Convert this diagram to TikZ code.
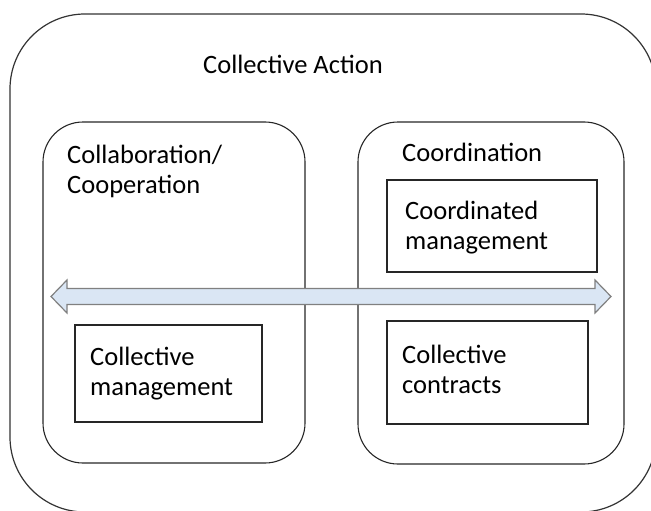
\documentclass[tikz,border=0pt]{standalone}
\usepackage{fontspec}
\setmainfont{Carlito}
\begin{document}
\begin{tikzpicture}[x=1pt,y=-1pt,
  frame/.style={draw=black!80,line width=1.2pt,rounded corners=75pt,
    rectangle,inner sep=0pt},
  group/.style={draw=black!85,line width=1.1pt,rounded corners=40pt,
    rectangle,inner sep=0pt},
  item/.style={draw=black!85,line width=1.1pt,rectangle,inner sep=0pt},
  label/.style={font=\fontsize{26.5}{30}\selectfont,inner sep=0pt,
    anchor=base west,align=left},
  twoway/.style={draw=black!50,line width=1.2pt,fill=arrowblue,
    line join=miter}]
\definecolor{arrowblue}{RGB}{218,230,244}
\useasboundingbox (0,0) rectangle (651,511);
\clip (0,0) rectangle (651,511);

% outer area and the two groups
\node[frame,minimum width=646pt,minimum height=498pt] (action) at (333,263) {};
\node[group,minimum width=262pt,minimum height=341pt] (collab) at (174,292.5) {};
\node[group,minimum width=266pt,minimum height=342pt] (coord) at (491,293) {};

% inner boxes
\node[item,minimum width=210pt,minimum height=92pt] (coordmgmt) at (492,226) {};
\node[item,minimum width=201pt,minimum height=103pt] (contracts) at (487.5,372.5) {};
\node[item,minimum width=187pt,minimum height=97pt] (collmgmt) at (168.5,373.5) {};

% double-headed arrow across both groups
\coordinate (lt) at (51,296.5);
\coordinate (rt) at (611,296.5);
\draw[twoway] (lt) -- ++(16,-16.5) -- ++(0,8.5) -- ++(528,0) -- ++(0,-8.5)
  -- (rt) -- ++(-16,16.5) -- ++(0,-8.5) -- ++(-528,0) -- ++(0,8.5) -- cycle;

% labels (multi-line labels are placed by the baseline of their last line)
\node[label] (tAction) at (203,74) {Collective Action};
\node[label] (tCollab) at (67,193) {Collaboration/\\Cooperation};
\node[label] (tCoord) at (402,161) {Coordination};
\node[label] (tCoordMgmt) at (405,249) {Coordinated\\management};
\node[label] (tContracts) at (402,393) {Collective\\contracts};
\node[label] (tCollMgmt) at (90,395) {Collective\\management};
\end{tikzpicture}
\end{document}
